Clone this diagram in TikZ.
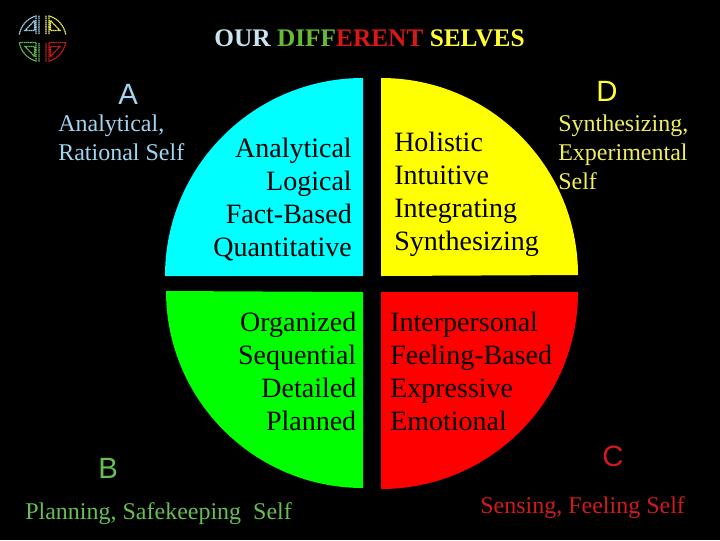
\documentclass[tikz,border=0pt]{standalone}
\usepackage{fontspec}
\setmainfont{Liberation Serif}
\setsansfont{Liberation Sans}
\definecolor{aqua}{RGB}{0,255,255}
\definecolor{lemon}{RGB}{255,255,0}
\definecolor{lime}{RGB}{0,255,0}
\definecolor{scarlet}{RGB}{255,0,0}
\definecolor{paleblue}{RGB}{200,228,238}
\definecolor{skyblue}{RGB}{160,212,240}
\definecolor{leaf}{RGB}{102,187,51}
\definecolor{crimson}{RGB}{216,24,24}
\definecolor{sunny}{RGB}{255,255,51}
\definecolor{paleyellow}{RGB}{238,238,96}
\definecolor{softgreen}{RGB}{102,190,84}
\definecolor{softred}{RGB}{208,26,30}
\newcommand{\logopart}{%
	(-23.2,-4) arc (189.8:255:23.5)
	(-6.5,-23) -- (-6.5,-4) (-3.5,-23) -- (-3.5,-4)
	(-8,-18) -- (-17.5,-8) -- (-8,-8) -- cycle}

\begin{document}
\begin{tikzpicture}[x=0.75pt,y=0.75pt,yscale=-1,xscale=1,
	quadtext/.style={inner sep=0pt,font=\fontsize{21}{24.75}\selectfont,text=black},
	selftext/.style={inner sep=0pt,anchor=north west,align=left,font=\fontsize{18}{21.75}\selectfont},
	letter/.style={inner sep=0pt,anchor=west,font=\sffamily\fontsize{22}{26}\selectfont},
	logoline/.style={line width=0.9pt,dash pattern=on 1.2pt off 0.4pt}]
	\useasboundingbox (0,0) rectangle (720,540);
	%Shape: Background
	\fill [black] (0,0) rectangle (720,540);

	%Shape: Quarter circles
	\fill [aqua] (363,276) -- (165,276) arc (180:270:198) -- cycle;
	\fill [lemon] (381,276) -- (381,78) arc (270:360:197) -- cycle;
	\fill [lime] (363,292) -- (363,488) arc (90:180:197) -- cycle;
	\fill [scarlet] (381,292) -- (578,292) arc (0:90:197) -- cycle;

	%Shape: Logo
	\begin{scope}[shift={(42.5,38.5)}]
		\draw [logoline,color=skyblue] \logopart;
		\begin{scope}[xscale=-1]
			\draw [logoline,color=paleyellow] \logopart;
		\end{scope}
		\begin{scope}[yscale=-1]
			\draw [logoline,color=softgreen] \logopart (-23,-4) -- (-6.5,-4);
		\end{scope}
		\begin{scope}[xscale=-1,yscale=-1]
			\draw [logoline,color=softred] \logopart (-23,-4) -- (-6.5,-4);
		\end{scope}
	\end{scope}

	% Text Node
	\node (title) [anchor=north,inner sep=0pt,font=\bfseries\fontsize{19}{22}\selectfont] at (369.5,29.5) {\textcolor{paleblue}{OUR} \textcolor{leaf}{DIFF}\textcolor{crimson}{ERENT} \textcolor{sunny}{SELVES}};

	% Text Node
	\node (textA) [quadtext,anchor=north east,align=right] at (352,138) {Analytical\\Logical\\Fact-Based\\Quantitative};
	% Text Node
	\node (textD) [quadtext,anchor=north west,align=left] at (394,132) {Holistic\\Intuitive\\Integrating\\Synthesizing};
	% Text Node
	\node (textB) [quadtext,anchor=north east,align=right] at (356.5,312) {Organized\\Sequential\\Detailed\\Planned};
	% Text Node
	\node (textC) [quadtext,anchor=north west,align=left] at (390,312) {Interpersonal\\Feeling-Based\\Expressive\\Emotional};

	% Text Node
	\node (letterA) [letter,text=skyblue] at (118,94) {A};
	% Text Node
	\node (letterD) [letter,text=sunny] at (596,91) {D};
	% Text Node
	\node (letterB) [letter,text=softgreen] at (98,468) {B};
	% Text Node
	\node (letterC) [letter,text=softred] at (602,456) {C};

	% Text Node
	\node (selfA) [selftext,text=skyblue] at (58,114.5) {Analytical,\\Rational Self};
	% Text Node
	\node (selfD) [selftext,text=paleyellow] at (558,115) {Synthesizing,\\Experimental\\Self};
	% Text Node
	\node (selfB) [selftext,text=softgreen] at (25,502) {Planning, Safekeeping\ \ Self};
	% Text Node
	\node (selfC) [selftext,text=softred] at (480,496) {Sensing, Feeling Self};
\end{tikzpicture}
\end{document}
